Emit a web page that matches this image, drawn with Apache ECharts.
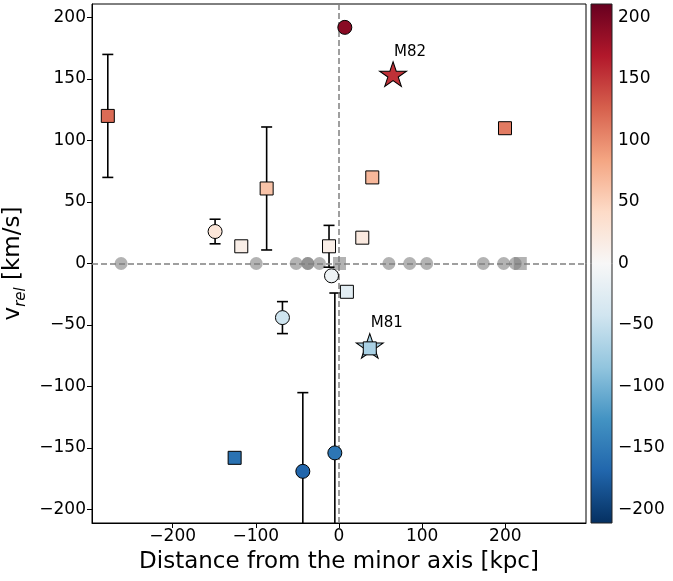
<!DOCTYPE html>
<html>
<head>
<meta charset="utf-8">
<script src="https://cdn.jsdelivr.net/npm/echarts@6/dist/echarts.min.js"></script>
<style>
  html, body { margin: 0; padding: 0; background: #fff; }
  #main { width: 673px; height: 581px; }
</style>
</head>
<body>
<div id="main"></div>
<script>
// colored points: [distance kpc, v_rel km/s, error]
var circles = [
  [-149, 26, 10],
  [-9, -10, 0],
  [7, 192, 0],
  [-68, -44, 13],
  [-43.5, -169, 64],
  [-5, -154, 130]
];
var squares = [
  [-278, 120, 50],
  [-117.5, 14, 0],
  [-87, 61, 50],
  [-12, 14, 17],
  [199.6, 110, 0],
  [40, 70, 0],
  [28, 21, 0],
  [9.5, -23, 0],
  [37, -69, 0],
  [-125.5, -158, 0]
];
var stars = [
  [65, 154, 'M82'],
  [37, -67, 'M81']
];
// gray points on the v = 0 line
var grayCircleX = [-262, -99.5, -51.5, -37.5, -37.5, -23.5, 60, 85, 105.5, 173.5, 198, 212];
var graySquareX = [0.6, 218];

var xTicks = [-200, -100, 0, 100, 200];
var yTicks = [-200, -150, -100, -50, 0, 50, 100, 150, 200];
var cbTicks = [-200, -150, -100, -50, 0, 50, 100, 150, 200];

// RdBu_r
var cmap = ['#053061', '#2166ac', '#4393c3', '#92c5de', '#d1e5f0', '#f7f7f7',
            '#fddbc7', '#f4a582', '#d6604d', '#b2182b', '#67001f'];
var vmin = -211, vmax = 211;

var starPath = 'path://M0,-1L0.2245,-0.309L0.951,-0.309L0.363,0.118L0.588,0.809L0,0.382L-0.588,0.809L-0.363,0.118L-0.951,-0.309L-0.2245,-0.309Z';

function minus(v) { return v < 0 ? '\u2212' + Math.abs(v) : String(v); }

var errData = circles.concat(squares).filter(function (d) { return d[2] > 0; });

var tickFont = { fontFamily: 'DejaVu Sans', fontSize: 17, color: '#000' };

var chart = echarts.init(document.getElementById('main'));

var gradStops = cmap.map(function (c, i) {
  return { offset: 1 - i / (cmap.length - 1), color: c };
});

chart.setOption({
  animation: false,
  grid: [
    { left: 92, right: 87, top: 4, bottom: 58, show: true, borderColor: '#000', borderWidth: 1, backgroundColor: 'transparent', outerBoundsMode: 'none', containLabel: false },
    { left: 591, width: 21, top: 4, bottom: 58, show: true, borderColor: '#222', borderWidth: 1, backgroundColor: 'transparent', z: 5, outerBoundsMode: 'none', containLabel: false }
  ],
  graphic: [{
    type: 'rect',
    left: 591, top: 4, z: 1,
    shape: { width: 21, height: 519 },
    style: { fill: new echarts.graphic.LinearGradient(0, 0, 0, 1, gradStops) }
  }],
  xAxis: [{
    type: 'value', min: -297, max: 297,
    name: 'Distance from the minor axis [kpc]',
    nameLocation: 'middle', nameGap: 28,
    nameTextStyle: { fontFamily: 'DejaVu Sans', fontSize: 23, color: '#000' },
    splitLine: { show: false },
    axisLine: { show: true, onZero: false, lineStyle: { color: '#000', width: 1 } },
    axisTick: { show: true, length: 5, customValues: xTicks, lineStyle: { color: '#000' } },
    axisLabel: Object.assign({ customValues: xTicks, margin: 5, formatter: minus }, tickFont)
  }, {
    gridIndex: 1, type: 'value', min: 0, max: 1, show: false
  }],
  yAxis: [{
    type: 'value', min: -211, max: 211,
    name: '{v|v}{s|rel}{v| [km/s]}',
    nameLocation: 'middle', nameGap: 59, nameRotate: 90,
    nameTextStyle: {
      fontFamily: 'DejaVu Sans', fontSize: 23, color: '#000',
      rich: {
        v: { fontFamily: 'DejaVu Sans', fontSize: 23, color: '#000', lineHeight: 27, verticalAlign: 'bottom' },
        s: { fontFamily: 'DejaVu Sans', fontSize: 15, fontStyle: 'italic', color: '#000', lineHeight: 20, verticalAlign: 'bottom', padding: [0, 0, -4, 0] }
      }
    },
    splitLine: { show: false },
    axisLine: { show: true, onZero: false, lineStyle: { color: '#000', width: 1 } },
    axisTick: { show: true, length: 5, customValues: yTicks, lineStyle: { color: '#000' } },
    axisLabel: Object.assign({ customValues: yTicks, margin: 6, formatter: minus }, tickFont)
  }, {
    gridIndex: 1, type: 'value', min: vmin, max: vmax, position: 'right',
    splitLine: { show: false },
    axisLine: { show: false },
    axisTick: { show: true, length: 5, customValues: cbTicks, lineStyle: { color: '#000' } },
    axisLabel: Object.assign({ customValues: cbTicks, margin: 6, formatter: minus }, tickFont)
  }],
  visualMap: {
    type: 'continuous', show: false, min: vmin, max: vmax, dimension: 1,
    seriesIndex: [4, 5, 6], inRange: { color: cmap }
  },
  series: [
    {
      type: 'scatter', z: 1,
      data: grayCircleX.map(function (x) { return [x, 0]; }),
      symbol: 'circle', symbolSize: 13,
      itemStyle: { color: '#808080', opacity: 0.6 }
    },
    {
      type: 'scatter', z: 1,
      data: graySquareX.map(function (x) { return [x, 0]; }),
      symbol: 'rect', symbolSize: 13,
      itemStyle: { color: '#808080', opacity: 0.6 }
    },
    {
      type: 'line', z: 2, data: [], silent: true,
      markLine: {
        silent: true, symbol: 'none', label: { show: false },
        lineStyle: { color: '#808080', width: 1.5, type: [6, 3] },
        data: [{ xAxis: 0 }, { yAxis: 0 }]
      }
    },
    {
      type: 'custom', z: 3, clip: true,
      data: errData,
      renderItem: function (params, api) {
        var x = api.value(0), y = api.value(1), e = api.value(2);
        var top = api.coord([x, y + e]);
        var bot = api.coord([x, y - e]);
        var cw = 5.5;
        var st = { stroke: '#000', lineWidth: 1.6 };
        return {
          type: 'group',
          children: [
            { type: 'line', shape: { x1: top[0], y1: top[1], x2: bot[0], y2: bot[1] }, style: st },
            { type: 'line', shape: { x1: top[0] - cw, y1: top[1], x2: top[0] + cw, y2: top[1] }, style: st },
            { type: 'line', shape: { x1: bot[0] - cw, y1: bot[1], x2: bot[0] + cw, y2: bot[1] }, style: st }
          ]
        };
      }
    },
    {
      type: 'scatter', z: 4,
      data: stars,
      symbol: starPath, symbolSize: [27, 26], symbolKeepAspect: true,
      itemStyle: { borderColor: '#000', borderWidth: 1, opacity: 1 },
      label: {
        show: true, position: 'top', distance: 2, offset: [17, 0],
        formatter: function (p) { return p.value[2]; },
        fontFamily: 'DejaVu Sans', fontSize: 15, color: '#000'
      }
    },
    {
      type: 'scatter', z: 5,
      data: circles,
      symbol: 'circle', symbolSize: 14,
      itemStyle: { borderColor: '#000', borderWidth: 1, opacity: 1 }
    },
    {
      type: 'scatter', z: 5,
      data: squares,
      symbol: 'rect', symbolSize: 13,
      itemStyle: { borderColor: '#000', borderWidth: 1, opacity: 1 }
    }
  ]
});
</script>
</body>
</html>
